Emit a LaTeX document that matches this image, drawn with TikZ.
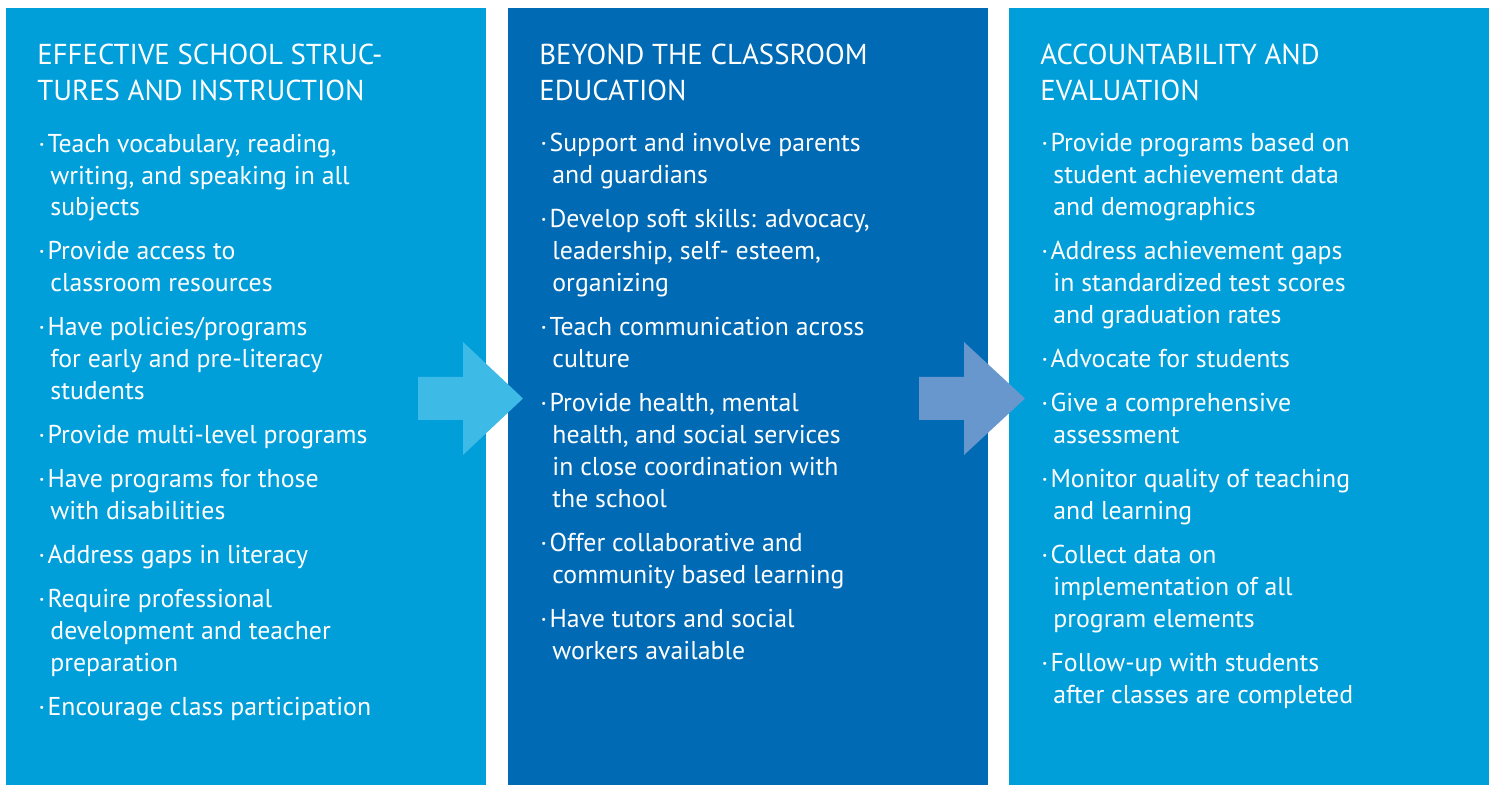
\documentclass[tikz,border=0pt]{standalone}
\usepackage{fontspec}
\setmainfont{PT Sans}
\definecolor{PanelLight}{RGB}{0,159,218}
\definecolor{PanelDark}{RGB}{0,106,180}
\definecolor{ArrowLight}{RGB}{62,186,230}
\definecolor{ArrowDark}{RGB}{104,151,206}
\usetikzlibrary{positioning,calc}
\newcommand{\bul}{\makebox[4.6pt][l]{·}}
\newcommand{\ind}{\hspace*{6pt}}
\newcommand{\gap}{\\[6pt]}

\begin{document}
\begin{tikzpicture}[x=0.5pt,y=-0.5pt,
						panel/.style={rectangle,inner sep=0pt,minimum width=240pt,minimum height=388.5pt},
						head/.style={text=white,align=left,inner sep=0pt,anchor=base west,font=\fontsize{14.4}{18}\selectfont},
						body/.style={text=white,align=left,inner sep=0pt,anchor=base west,font=\fontsize{12.9}{16}\selectfont}
					]
					\useasboundingbox (0,0) rectangle (1496,785);
					\node[panel,fill=PanelLight] (p1) at (246,396.5) {};
					\node[panel,fill=PanelDark] (p2) at (748,396.5) {};
					\node[panel,fill=PanelLight] (p3) at (1249,396.5) {};

					% titles (placed at the baseline of the last line)
					\node[head] (h1) at (37,101) {EFFECTIVE SCHOOL STRUC-\\TURES AND INSTRUCTION};
					\node[head] (h2) at (539,101) {BEYOND THE CLASSROOM\\EDUCATION};
					\node[head] (h3) at (1040,101) {ACCOUNTABILITY AND\\EVALUATION};

					\node[body] (b1) at (38,716) {\bul Teach vocabulary, reading,\\ \ind writing, and speaking in all\\ \ind subjects\gap
						\bul Provide access to\\ \ind classroom resources\gap
						\bul Have policies/programs\\ \ind for early and pre-literacy\\ \ind students\gap
						\bul Provide multi-level programs\gap
						\bul Have programs for those\\ \ind with disabilities\gap
						\bul Address gaps in literacy\gap
						\bul Require professional\\ \ind development and teacher\\ \ind preparation\gap
						\bul Encourage class participation};
					\node[body] (b2) at (540,660) {\bul Support and involve parents\\ \ind and guardians\gap
						\bul Develop soft skills: advocacy,\\ \ind leadership, self- esteem,\\ \ind organizing\gap
						\bul Teach communication across\\ \ind culture\gap
						\bul Provide health, mental\\ \ind health, and social services\\ \ind in close coordination with\\ \ind the school\gap
						\bul Offer collaborative and\\ \ind community based learning\gap
						\bul Have tutors and social\\ \ind workers available};
					\node[body] (b3) at (1041,704) {\bul Provide programs based on\\ \ind student achievement data\\ \ind and demographics\gap
						\bul Address achievement gaps\\ \ind in standardized test scores\\ \ind and graduation rates\gap
						\bul Advocate for students\gap
						\bul Give a comprehensive\\ \ind assessment\gap
						\bul Monitor quality of teaching\\ \ind and learning\gap
						\bul Collect data on\\ \ind implementation of all\\ \ind program elements\gap
						\bul Follow-up with students\\ \ind after classes are completed};

					% arrows between the panels
					\fill[ArrowLight] (418,377) -- (463,377) -- (463,342) -- (523,398.5) -- (463,455) -- (463,420) -- (418,420) -- cycle;
					\fill[ArrowDark] (919,377) -- (964,377) -- (964,342) -- (1025,398.5) -- (964,455) -- (964,420) -- (919,420) -- cycle;
				\end{tikzpicture}
\end{document}
